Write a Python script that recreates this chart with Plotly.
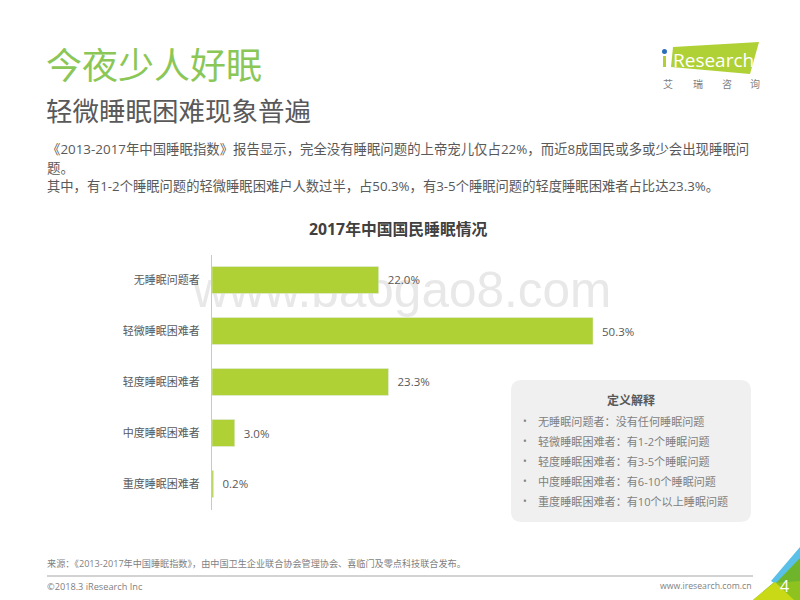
import plotly.graph_objects as go

# chart data
categories = ["无睡眠问题者", "轻微睡眠困难者", "轻度睡眠困难者", "中度睡眠困难者", "重度睡眠困难者"]
values = [22.0, 50.3, 23.3, 3.0, 0.2]

body_lines = [
    "《2013-2017年中国睡眠指数》报告显示，完全没有睡眠问题的上帝宠儿仅占22%，而近8成国民或多或少会出现睡眠问",
    "题。",
    "其中，有1-2个睡眠问题的轻微睡眠困难户人数过半，占50.3%，有3-5个睡眠问题的轻度睡眠困难者占比达23.3%。",
]
definitions = [
    "无睡眠问题者：没有任何睡眠问题",
    "轻微睡眠困难者：有1-2个睡眠问题",
    "轻度睡眠困难者：有3-5个睡眠问题",
    "中度睡眠困难者：有6-10个睡眠问题",
    "重度睡眠困难者：有10个以上睡眠问题",
]

FONT = "Open Sans, Noto Sans CJK SC, sans-serif"
W, H = 800, 600
GREEN = "#afd135"


# pixel position -> paper coordinates
def px(x):
    return x / W


def py(y):
    return 1 - y / H


def poly(points, color):
    path = "M " + " L ".join(f"{px(x)},{py(y)}" for x, y in points) + " Z"
    return dict(type="path", xref="paper", yref="paper", path=path, fillcolor=color, line_width=0)


def label(x, y, text, size, color="#595959", anchor="left", bold=False):
    if bold:
        text = "<b>" + text + "</b>"
    return dict(xref="paper", yref="paper", x=px(x), y=py(y), text=text, showarrow=False,
                xanchor=anchor, yanchor="middle", align=anchor, borderpad=0, borderwidth=0,
                font=dict(size=size, color=color, family=FONT))


fig = go.Figure()
fig.add_trace(go.Bar(
    y=categories,
    x=values,
    orientation="h",
    marker_color=GREEN,
    text=["  %.1f%%" % v for v in values],
    textposition="outside",
    textfont=dict(size=11.5, color="#595959", family=FONT),
    cliponaxis=False,
    width=0.53,
))

# rounded box corners
bx0, bx1, by0, by1, r = 511, 751, 380, 522, 11
box = (f"M {px(bx0 + r)},{py(by0)} L {px(bx1 - r)},{py(by0)} Q {px(bx1)},{py(by0)} {px(bx1)},{py(by0 + r)} "
       f"L {px(bx1)},{py(by1 - r)} Q {px(bx1)},{py(by1)} {px(bx1 - r)},{py(by1)} "
       f"L {px(bx0 + r)},{py(by1)} Q {px(bx0)},{py(by1)} {px(bx0)},{py(by1 - r)} "
       f"L {px(bx0)},{py(by0 + r)} Q {px(bx0)},{py(by0)} {px(bx0 + r)},{py(by0)} Z")

shapes = [
    # watermark sits under the bars
    dict(type="rect", xref="paper", yref="paper", x0=px(187), x1=px(640), y0=py(260), y1=py(310),
         line_width=0, fillcolor="rgba(0,0,0,0)", layer="below",
         label=dict(text="www.baogao8.com", textposition="middle left",
                    font=dict(size=49.5, color="#e8e8e8", family="Liberation Sans"))),
    dict(type="path", xref="paper", yref="paper", path=box, fillcolor="#f0f0f0", line_width=0),
    # footer rule
    dict(type="line", xref="paper", yref="paper", x0=px(47), x1=px(753), y0=py(576), y1=py(576),
         line=dict(color="#a6a6a6", width=1)),
    # logo
    poly([(673, 47), (759, 42), (750, 74), (671, 67)], GREEN),
    # corner triangles
    poly([(800, 547), (771, 581), (777, 585), (800, 560)], "#5bc0e8"),
    poly([(800, 558), (775, 584), (800, 584)], "#6fb52c"),
    poly([(753, 600), (773, 583), (800, 581), (800, 600)], "#8dc21f"),
    poly([(753, 600), (775, 582), (794, 600)], "#c9d916"),
]

annotations = [
    label(46, 66, "今夜少人好眠", 36, "#8bc757"),
    label(46, 111, "轻微睡眠困难现象普遍", 26.5, "#595959"),
    label(398, 229, "2017年中国国民睡眠情况", 15.8, "#404040", "center", True),
    label(47, 148.5, body_lines[0], 13.4),
    label(47, 167.5, body_lines[1], 13.4),
    label(47, 186.5, body_lines[2], 13.3),
    label(631, 400, "定义解释", 12, "#595959", "center", True),
    label(47, 563, "来源：《2013-2017年中国睡眠指数》，由中国卫生企业联合协会管理协会、喜临门及零点科技联合发布。", 9.15, "#7f7f7f"),
    label(47, 586, "©2018.3 iResearch Inc", 9.2, "#7f7f7f"),
    label(751, 586, "www.iresearch.com.cn", 8.7, "#7f7f7f", "right"),
    label(784, 586, "4", 16, "#ffffff", "center"),
    label(673, 60, "Research", 19, "#ffffff"),
    label(668, 84, "艾", 10, "#7f7f7f", "center"),
    label(698, 84, "瑞", 10, "#7f7f7f", "center"),
    label(727, 84, "咨", 10, "#7f7f7f", "center"),
    label(755, 84, "询", 10, "#7f7f7f", "center"),
]
for i, d in enumerate(definitions):
    annotations.append(label(525, 421 + i * 20, "•", 10, "#7f7f7f", "center"))
    annotations.append(label(538, 421 + i * 20, d, 11.1, "#7f7f7f"))

# logo dot and stem of the i
shapes.append(dict(type="circle", xref="paper", yref="paper", x0=px(662), x1=px(667), y0=py(49), y1=py(54),
                   fillcolor="#2a6ebb", line_width=0))
shapes.append(poly([(663, 56), (666, 56), (666, 67), (663, 67)], GREEN))

fig.update_layout(
    width=W,
    height=H,
    margin=dict(l=0, r=0, t=0, b=0),
    paper_bgcolor="white",
    plot_bgcolor="rgba(0,0,0,0)",
    showlegend=False,
    shapes=shapes,
    annotations=annotations,
    font=dict(family=FONT),
    xaxis=dict(domain=[px(212), px(212 + 454.5)], range=[0, 60], visible=False),
    yaxis=dict(domain=[py(509.5), py(254.5)], autorange="reversed", showgrid=False, zeroline=False,
               showline=True, linecolor="#c8c8c8", linewidth=1, ticks="outside", ticklen=9,
               tickcolor="rgba(0,0,0,0)", tickfont=dict(size=11, color="#595959", family=FONT)),
)

# the page's default body margin would push the figure off the window
fig.write_html("out.html", config={"displayModeBar": False},
               post_script="document.body.style.margin='0';document.body.style.overflow='hidden';")
